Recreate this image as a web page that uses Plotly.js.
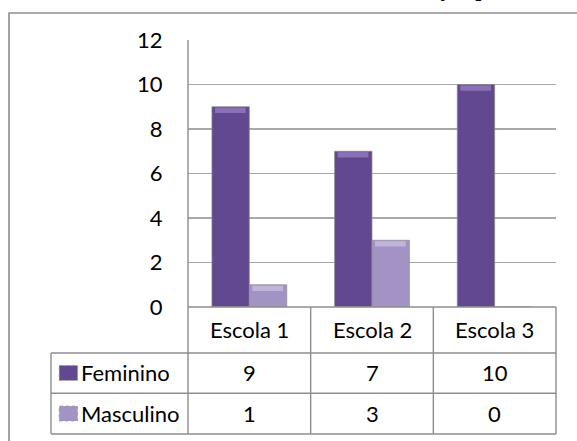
<!DOCTYPE html>
<html>
<head>
<meta charset="utf-8">
<script src="https://cdn.plot.ly/plotly-3.0.1.min.js"></script>
<style>html,body{margin:0;padding:0;background:#fff;}#chart{width:577px;height:441px;}</style>
</head>
<body>
<div id="chart"></div>
<script>
var categories = ["Escola 1", "Escola 2", "Escola 3"];
var seriesNames = ["Feminino", "Masculino"];
var feminino = [9, 7, 10];
var masculino = [1, 3, 0];
var yTicks = [0, 2, 4, 6, 8, 10, 12];
var titleFragment = "ção p";

var colors = ["#62498f", "#a293c4"];
var highlight = ["#9a82c8", "#cdc2e6"];
var series = [feminino, masculino];

var FONT = "Lato, 'Open Sans', sans-serif";
var lineCol = "#8e8e8e";
var BARGAP = 0.39;

var traces = series.map(function (vals, i) {
  return {
    type: "bar",
    name: seriesNames[i],
    x: categories,
    y: vals,
    marker: { color: colors[i], line: { color: "rgba(140,140,140,0.7)", width: 1 } },
    hoverinfo: "x+y+name"
  };
});

// table geometry in paper coords (plot area: x 188-556 px, y 40-307 px)
var rowHeader = -0.086, rowF = -0.247, rowM = -0.399;
var yLine1 = -0.1723, yLine2 = -0.3232, yLine3 = -0.4757;
var xTableLeft = -0.3723;

var shapes = [];
function ln(x0, y0, x1, y1) {
  shapes.push({ type: "line", xref: "paper", yref: "paper", x0: x0, y0: y0, x1: x1, y1: y1,
    line: { color: lineCol, width: 1.4 } });
}
// outer frame
shapes.push({ type: "rect", xref: "paper", yref: "paper", x0: -0.4864, y0: -0.7, x1: 1.2, y1: 1.1011,
  line: { color: lineCol, width: 1.6 }, fillcolor: "rgba(0,0,0,0)", layer: "below" });
ln(0, 1, 0, yLine3);
ln(0, 0, 1, 0);
ln(xTableLeft, yLine1, 1, yLine1);
ln(xTableLeft, yLine2, 1, yLine2);
ln(xTableLeft, yLine3, 1, yLine3);
ln(xTableLeft, yLine1, xTableLeft, yLine3);
for (var c = 1; c <= categories.length; c++) {
  ln(c / categories.length, 0, c / categories.length, yLine3);
}
// top bevel highlights on bars (derived from the data)
var bw = (1 - BARGAP) / series.length;
series.forEach(function (vals, s) {
  vals.forEach(function (v, j) {
    if (v <= 0) return;
    var x0 = j - (1 - BARGAP) / 2 + s * bw;
    shapes.push({ type: "rect", xref: "x", yref: "y", x0: x0 + 0.025, x1: x0 + bw - 0.03,
      y0: v - 0.28, y1: v - 0.04, fillcolor: highlight[s], opacity: 0.7, line: { width: 0 } });
  });
});
// legend keys in table
[rowF, rowM].forEach(function (ry, i) {
  shapes.push({ type: "rect", xref: "paper", yref: "paper",
    x0: -0.35, x1: -0.3, y0: ry - 0.028, y1: ry + 0.028,
    fillcolor: colors[i], line: { color: "rgba(150,150,150,0.8)", width: 1, dash: "dot" } });
});

var annotations = [];
var tf = { family: FONT, size: 22, color: "#000" };
function ann(xref, x, y, text, xanchor) {
  annotations.push({ xref: xref, yref: "paper", x: x, y: y, text: text, showarrow: false,
    xanchor: xanchor || "center", yanchor: "middle", font: tf });
}
categories.forEach(function (cat, j) {
  ann("x", cat, rowHeader, cat);
  ann("x", cat, rowF, String(feminino[j]));
  ann("x", cat, rowM, String(masculino[j]));
});
ann("paper", -0.296, rowF, seriesNames[0], "left");
ann("paper", -0.296, rowM, seriesNames[1], "left");
annotations.push({ xref: "paper", yref: "paper", x: 0.675, y: 1.138, xanchor: "left", yanchor: "bottom",
  text: "<b>" + titleFragment + "</b>", showarrow: false,
  font: { family: "'Liberation Serif', 'DejaVu Serif', serif", size: 22, color: "#000" } });

var layout = {
  width: 577, height: 441,
  margin: { l: 188, r: 21, t: 40, b: 134 },
  paper_bgcolor: "#fff", plot_bgcolor: "#fff",
  showlegend: false,
  barmode: "group", bargap: BARGAP, bargroupgap: 0,
  xaxis: { type: "category", showticklabels: false, showgrid: false, zeroline: false, showline: false, ticks: "", fixedrange: true },
  yaxis: { range: [0, 12], tickvals: yTicks, ticktext: yTicks.map(String),
    showgrid: true, gridcolor: "#a8a8a8", gridwidth: 1.3, zeroline: false, showline: false,
    ticks: "outside", ticklen: 20, tickcolor: "rgba(0,0,0,0)",
    tickfont: tf, fixedrange: true },
  shapes: shapes,
  annotations: annotations
};

Plotly.newPlot("chart", traces, layout, { displayModeBar: false, staticPlot: true });
</script>
</body>
</html>
